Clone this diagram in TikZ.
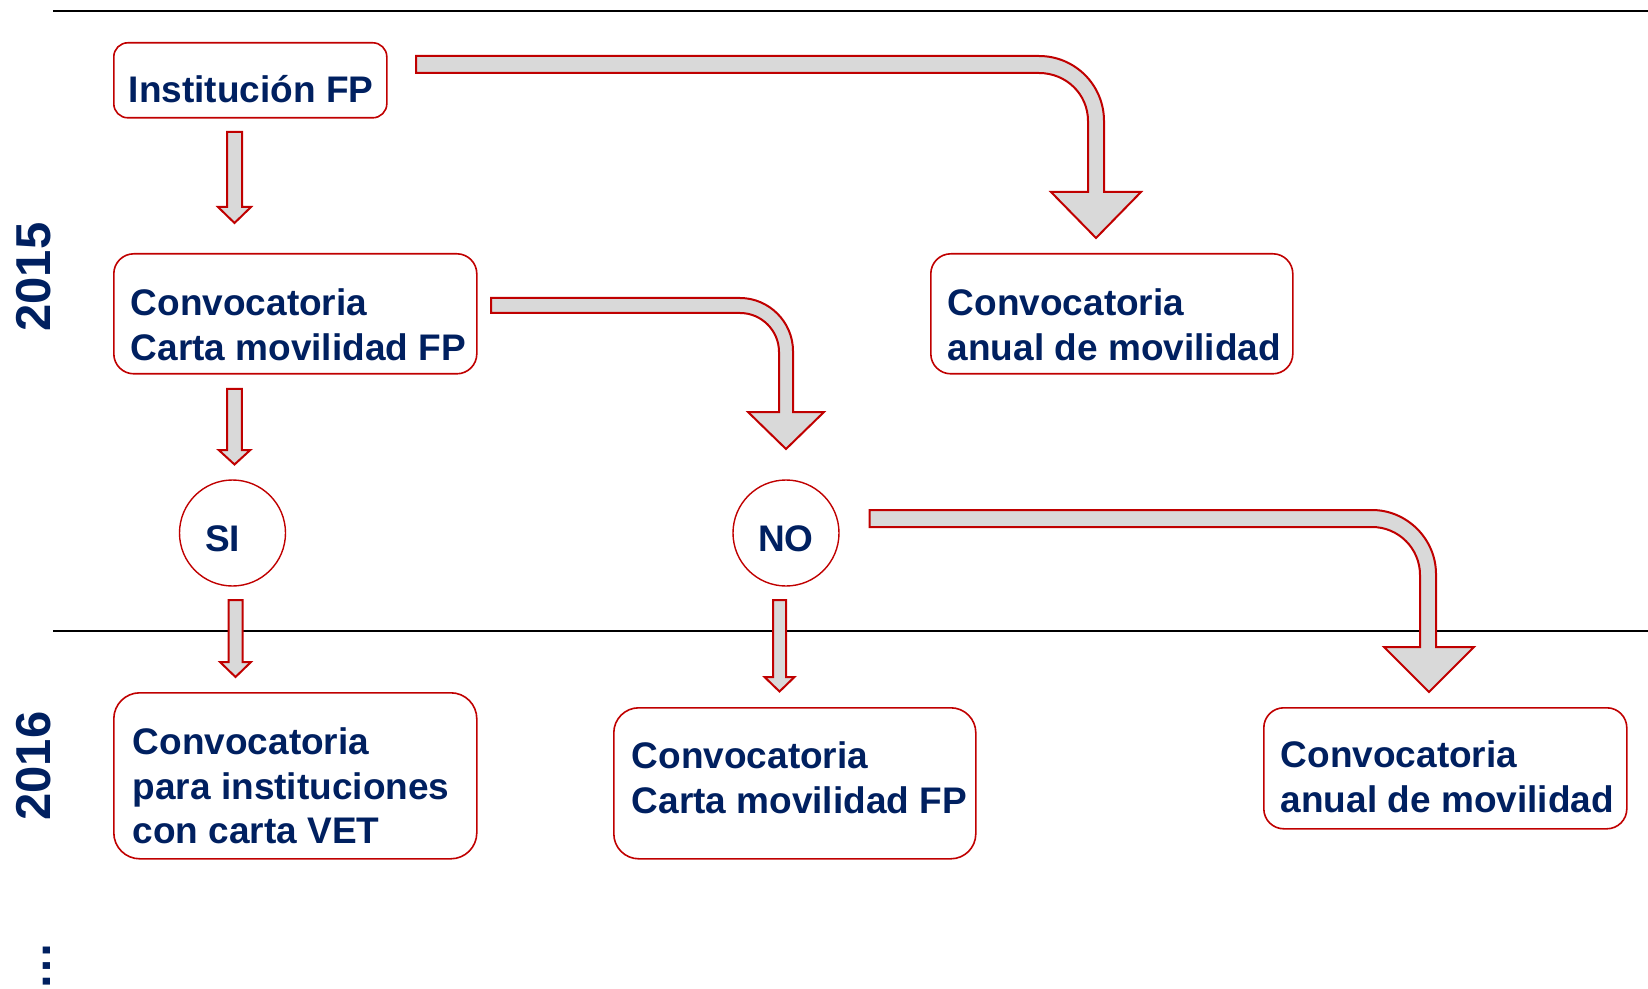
\documentclass[tikz,border=0pt]{standalone}
\usepackage{fontspec}
\setmainfont{Liberation Sans}
\definecolor{navy}{RGB}{0,32,96}
\definecolor{boxred}{RGB}{192,0,0}
\definecolor{arrgray}{RGB}{217,217,217}
\tikzset{
  box/.style={draw=boxred, line width=0.8pt, fill=white, inner sep=0pt, anchor=north west,
    text=navy, font=\bfseries\fontsize{18.5pt}{22.25pt}\selectfont},
  circ/.style={circle, draw=boxred, line width=0.7pt, minimum size=53pt, inner sep=0pt,
    text=navy, font=\bfseries\fontsize{18.5pt}{22.25pt}\selectfont, text height=18pt, text depth=0pt},
  blockarrow/.style={draw=boxred, fill=arrgray, line width=1pt, line join=miter},
  yearlbl/.style={rotate=90, anchor=base, text=navy, inner sep=0pt,
    font=\bfseries\fontsize{24.5pt}{29pt}\selectfont},
  hline/.style={draw=black, line width=1pt}
}
\newcommand{\boxcontent}[3]{\makebox[#1][l]{\hspace*{#2}\vtop{#3}}}
% centre x, top y, tip y, shaft half width, head half width, head length
\newcommand{\dnarrow}[6]{%
  \draw[blockarrow] ({#1-#4},#2) -- ({#1+#4},#2) -- ({#1+#4},{#3-#6}) -- ({#1+#5},{#3-#6})
    -- (#1,#3) -- ({#1-#5},{#3-#6}) -- ({#1-#4},{#3-#6}) -- cycle;}
\begin{document}
\begin{tikzpicture}[x=0.5pt,y=-0.5pt]
\useasboundingbox (0,0) rectangle (1648,989);

% timeline separators
\draw[hline] (53,11.5) -- (1648,11.5);
\draw[hline] (53,631) -- (1648,631);

% year labels
\node[yearlbl] (y2015) at (50,277) {2015};
\node[yearlbl] (y2016) at (50,766) {2016};
\node[yearlbl] (more) at (50,966) {…};

% boxes
\node[box, rounded corners=7pt, text height=29.85pt, text depth=7.65pt] (b1) at (113,42)
  {\boxcontent{136.5pt}{7.5pt}{\hbox{Institución FP}}};
\node[box, rounded corners=10pt, text height=31pt, text depth=29pt] (b2) at (113,253)
  {\boxcontent{181.5pt}{8.5pt}{\hbox{Convocatoria}\hbox{Carta movilidad FP}}};
\node[box, rounded corners=10pt, text height=31pt, text depth=29pt] (b3) at (930,253)
  {\boxcontent{181pt}{8.5pt}{\hbox{Convocatoria}\hbox{anual de movilidad}}};
\node[box, rounded corners=13pt, text height=31pt, text depth=52pt] (b4) at (113,692)
  {\boxcontent{181.5pt}{9.5pt}{\hbox{Convocatoria}\hbox{para instituciones}\hbox{con carta VET}}};
\node[box, rounded corners=12.5pt, text height=30.5pt, text depth=45pt] (b5) at (613,707)
  {\boxcontent{181pt}{9pt}{\hbox{Convocatoria}\hbox{Carta movilidad FP}}};
\node[box, rounded corners=10pt, text height=30pt, text depth=30.5pt] (b6) at (1263,707)
  {\boxcontent{181.5pt}{8.5pt}{\hbox{Convocatoria}\hbox{anual de movilidad}}};

% decision circles
\node[circ] (si) at (232.5,533) {SI\kern10pt};
\node[circ] (no) at (786,533) {NO};

% small down arrows
\dnarrow{234.5}{132}{223}{7.5}{16.5}{16}
\dnarrow{234.5}{389}{464.5}{7.3}{15.8}{14.5}
\dnarrow{235.5}{600}{677}{7}{15.5}{15}
\dnarrow{779.5}{600}{691.5}{6.5}{15}{14.5}

% bent block arrows
\draw[blockarrow] (416,56) -- (1039,56) .. controls (1075,56) and (1104,85) .. (1104,121)
  -- (1104,192) -- (1141,192) -- (1096,238) -- (1051,192) -- (1088,192) -- (1088,121)
  .. controls (1088,94) and (1066,73) .. (1039,73) -- (416,73) -- cycle;
\draw[blockarrow] (491,298) -- (740,298) .. controls (769,298) and (793,322) .. (793,351)
  -- (793,412) -- (824,412) -- (786,449) -- (748,412) -- (779,412) -- (779,352)
  .. controls (779,330.5) and (761.5,313) .. (740,313) -- (491,313) -- cycle;
\draw[blockarrow] (869.5,510) -- (1372,510) .. controls (1407,510) and (1436,539) .. (1436,574)
  -- (1436,647) -- (1474,647) -- (1429,692) -- (1384,647) -- (1420,647) -- (1420,575)
  .. controls (1420,548.5) and (1398.5,527) .. (1372,527) -- (869.5,527) -- cycle;
\end{tikzpicture}
\end{document}
